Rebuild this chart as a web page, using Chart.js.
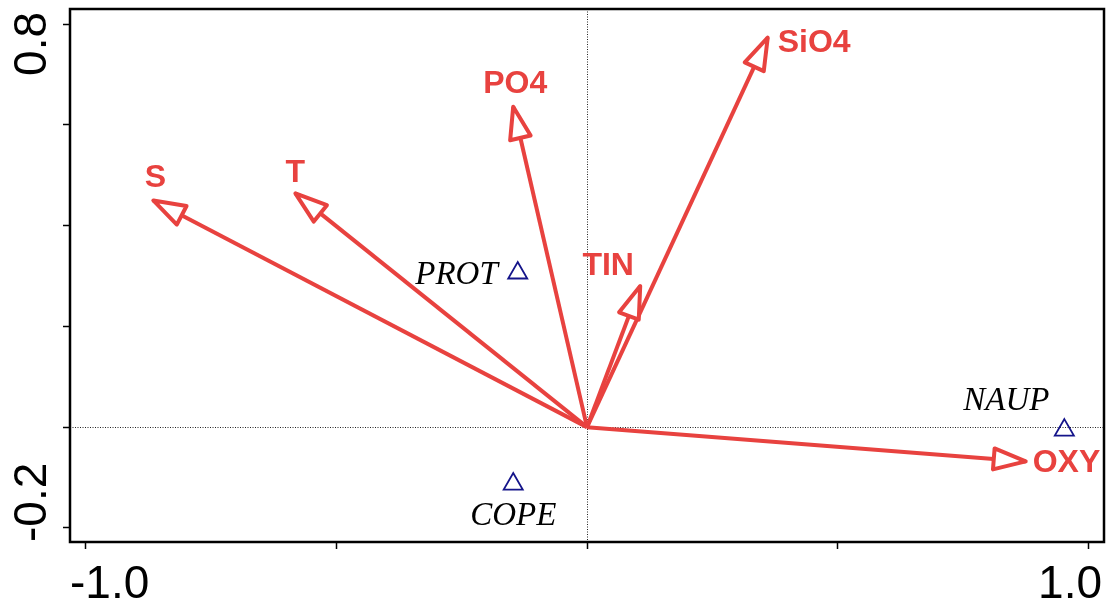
<!DOCTYPE html>
<html>
<head>
<meta charset="utf-8">
<script src="https://cdn.jsdelivr.net/npm/chart.js@4.4.0/dist/chart.umd.min.js"></script>
<style>
  html, body { margin: 0; padding: 0; background: #fff; }
</style>
</head>
<body>
<canvas id="biplot" width="1107" height="603"></canvas>
<script>
// environmental variables, drawn as arrows from the origin
const envNames = ["S", "T", "PO4", "SiO4", "TIN", "OXY"];
const envX = [-0.864, -0.581, -0.147, 0.360, 0.106, 0.874];
const envY = [0.450, 0.464, 0.636, 0.773, 0.280, -0.068];

// species scores, drawn as triangles
const sppNames = ["PROT", "COPE", "NAUP"];
const sppX = [-0.138, -0.147, 0.951];
const sppY = [0.306, -0.113, -0.006];

// axis ticks, only the end ticks carry a label
const xTicks = [-1.0, -0.5, 0, 0.5, 1.0];
const xTickLabels = ["-1.0", "", "", "", "1.0"];
const yTicks = [-0.2, 0, 0.2, 0.4, 0.6, 0.8];
const yTickLabels = ["-0.2", "", "", "", "", "0.8"];

const RED = '#e8423f';
const NAVY = '#14148a';

// where each label sits relative to its mark (pixels)
const envLabelPos = {
  S:    { dx: 2,   dy: -13, align: 'center' },
  T:    { dx: 0,   dy: -11, align: 'center' },
  PO4:  { dx: 2,   dy: -14, align: 'center' },
  SiO4: { dx: 10,  dy: 14,  align: 'left' },
  TIN:  { dx: -32, dy: -11, align: 'center' },
  OXY:  { dx: 7,   dy: 11,  align: 'left' }
};
const sppLabelPos = {
  PROT: { dx: -20, dy: 11,  align: 'right' },
  COPE: { dx: 0,   dy: 41,  align: 'center' },
  NAUP: { dx: -58, dy: -20, align: 'center' }
};

let datasets = envNames.map((name, i) => ({
  label: name,
  data: [{ x: 0, y: 0 }, { x: envX[i], y: envY[i] }],
  showLine: true,
  borderColor: RED,
  borderWidth: 4,
  pointRadius: 0,
  fill: false,
  tension: 0
}));

datasets.push({
  label: 'species',
  data: sppX.map((x, i) => ({ x: x, y: sppY[i] })),
  showLine: false,
  pointStyle: 'triangle',
  pointRadius: 11,
  borderColor: NAVY,
  backgroundColor: 'transparent',
  pointBorderWidth: 1.8
});

const biplotDecor = {
  id: 'biplotDecor',
  beforeDatasetsDraw(chart) {
    const { ctx, chartArea: a, scales } = chart;
    const x0 = Math.round(scales.x.getPixelForValue(0)) + 0.5;
    const y0 = Math.round(scales.y.getPixelForValue(0)) + 0.5;
    ctx.save();
    ctx.strokeStyle = '#222';
    ctx.lineWidth = 1;
    ctx.setLineDash([1, 1.5]);
    ctx.beginPath();
    ctx.moveTo(a.left, y0); ctx.lineTo(a.right, y0);
    ctx.moveTo(x0, a.top); ctx.lineTo(x0, a.bottom);
    ctx.stroke();
    ctx.restore();
  },
  afterDatasetsDraw(chart) {
    const ctx = chart.ctx;

    // arrow heads and labels
    envNames.forEach((name, i) => {
      const pts = chart.getDatasetMeta(i).data;
      const ox = pts[0].x, oy = pts[0].y;
      const tx = pts[1].x, ty = pts[1].y;
      const len = Math.hypot(tx - ox, ty - oy);
      const ux = (tx - ox) / len, uy = (ty - oy) / len;
      const L = 32, W = 10.5;
      const bx = tx - ux * L, by = ty - uy * L;
      ctx.save();
      ctx.beginPath();
      ctx.moveTo(tx, ty);
      ctx.lineTo(bx - uy * W, by + ux * W);
      ctx.lineTo(bx + uy * W, by - ux * W);
      ctx.closePath();
      ctx.fillStyle = '#fff';
      ctx.fill();
      ctx.lineWidth = 4;
      ctx.lineJoin = 'round';
      ctx.strokeStyle = RED;
      ctx.stroke();

      const p = envLabelPos[name];
      ctx.fillStyle = RED;
      ctx.font = 'bold 32px "Liberation Sans", Arial, sans-serif';
      ctx.textAlign = p.align;
      ctx.textBaseline = 'alphabetic';
      ctx.fillText(name, tx + p.dx, ty + p.dy);
      ctx.restore();
    });

    // species labels
    const sp = chart.getDatasetMeta(envNames.length).data;
    ctx.save();
    ctx.fillStyle = '#000';
    ctx.font = 'italic 33px "Liberation Serif", "Times New Roman", serif';
    ctx.textBaseline = 'alphabetic';
    sppNames.forEach((name, i) => {
      const p = sppLabelPos[name];
      ctx.textAlign = p.align;
      ctx.fillText(name, sp[i].x + p.dx, sp[i].y + p.dy);
    });
    ctx.restore();
  },
  afterDraw(chart) {
    const { ctx, chartArea: a } = chart;
    ctx.save();
    // frame
    ctx.strokeStyle = '#000';
    ctx.lineWidth = 2.5;
    ctx.strokeRect(a.left, a.top, a.right - a.left, a.bottom - a.top);

    // tick labels: ends pushed inside like the original
    ctx.fillStyle = '#000';
    ctx.font = '46px "Liberation Sans", Arial, sans-serif';
    ctx.textBaseline = 'alphabetic';
    xTickLabels.forEach((lab, i) => {
      if (!lab) return;
      if (i === 0) { ctx.textAlign = 'left'; ctx.fillText(lab, a.left, a.bottom + 56); }
      else if (i === xTickLabels.length - 1) { ctx.textAlign = 'right'; ctx.fillText(lab, a.right - 2, a.bottom + 56); }
      else { ctx.textAlign = 'center'; ctx.fillText(lab, chart.scales.x.getPixelForValue(xTicks[i]), a.bottom + 56); }
    });
    yTickLabels.forEach((lab, i) => {
      if (!lab) return;
      ctx.save();
      let ya;
      if (i === 0) { ya = a.bottom; ctx.textAlign = 'left'; }
      else if (i === yTickLabels.length - 1) { ya = a.top + 3; ctx.textAlign = 'right'; }
      else { ya = chart.scales.y.getPixelForValue(yTicks[i]); ctx.textAlign = 'center'; }
      ctx.translate(a.left - 24, ya);
      ctx.rotate(-Math.PI / 2);
      ctx.fillText(lab, 0, 0);
      ctx.restore();
    });
    ctx.restore();
  }
};

let ctx = document.getElementById('biplot').getContext('2d');
let biplot = new Chart(ctx, {
  type: 'scatter',
  data: { datasets: datasets },
  options: {
    responsive: false,
    animation: false,
    events: [],
    layout: { autoPadding: false, padding: { top: 9, right: 3, left: 0, bottom: 0 } },
    plugins: { legend: { display: false }, tooltip: { enabled: false } },
    scales: {
      x: {
        type: 'linear',
        min: -1.03,
        max: 1.03,
        afterBuildTicks: s => { s.ticks = xTicks.map(v => ({ value: v })); },
        afterFit: s => { s.height = 61; },
        ticks: { display: false },
        grid: { drawOnChartArea: false, drawTicks: true, tickLength: 7, tickColor: '#000', tickWidth: 1.5 },
        border: { display: false }
      },
      y: {
        type: 'linear',
        min: -0.228,
        max: 0.83,
        afterBuildTicks: s => { s.ticks = yTicks.map(v => ({ value: v })); },
        afterFit: s => { s.width = 70; },
        ticks: { display: false },
        grid: { drawOnChartArea: false, drawTicks: true, tickLength: 7, tickColor: '#000', tickWidth: 1.5 },
        border: { display: false }
      }
    }
  },
  plugins: [biplotDecor]
});
</script>
</body>
</html>
